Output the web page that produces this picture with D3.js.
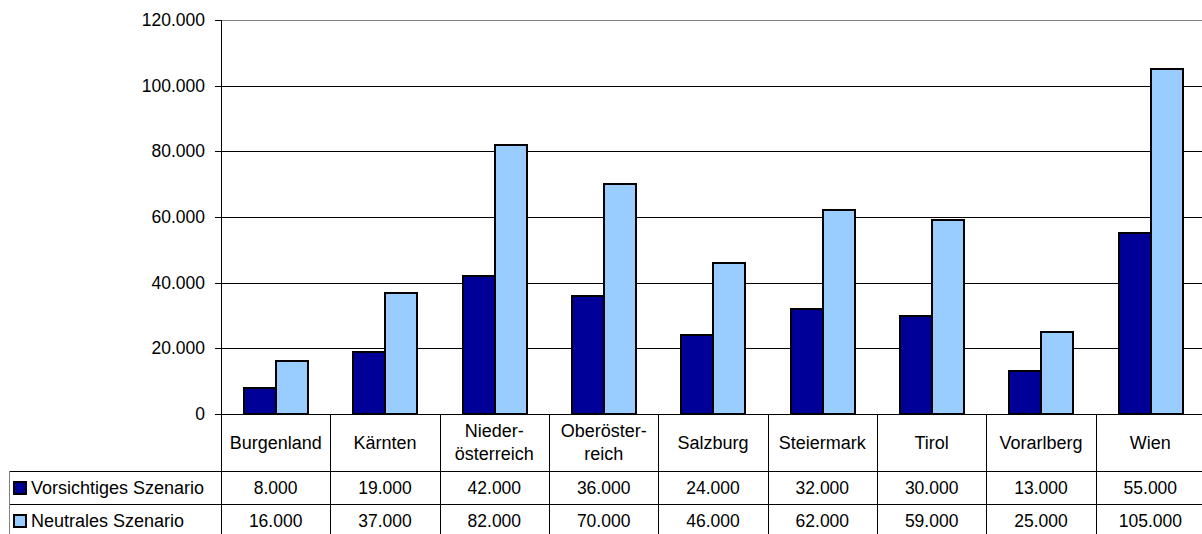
<!DOCTYPE html>
<html>
<head>
<meta charset="utf-8">
<script src="https://cdn.jsdelivr.net/npm/d3@7"></script>
<style>
  body { margin: 0; background: #fff; }
  svg { display: block; font-family: "Liberation Sans", Arial, sans-serif; }
</style>
</head>
<body>
<svg id="chart" width="1202" height="534"></svg>
<script>
const regions = ["Burgenland", "Kärnten", "Nieder-\nösterreich", "Oberöster-\nreich", "Salzburg", "Steiermark", "Tirol", "Vorarlberg", "Wien"];
const seriesNames = ["Vorsichtiges Szenario", "Neutrales Szenario"];
const vorsichtig = [8000, 19000, 42000, 36000, 24000, 32000, 30000, 13000, 55000];
const neutral = [16000, 37000, 82000, 70000, 46000, 62000, 59000, 25000, 105000];
const yTicks = [0, 20000, 40000, 60000, 80000, 100000, 120000];

const colors = {"Vorsichtiges Szenario": "#000099", "Neutrales Szenario": "#99ccff"};
const series = [
  {name: seriesNames[0], values: vorsichtig},
  {name: seriesNames[1], values: neutral}
];

const de = d3.formatLocale({decimal: ",", thousands: ".", grouping: [3], currency: ["", "€"]});
const fmt = de.format(",.0f");

const svg = d3.select("#chart");
const labelSize = 18, numSize = 17.5;

const plotLeft = 221, plotRight = 1205, plotTop = 20, plotBottom = 414;
const tableLeft = 9.5;
const rowCat = 471, row1 = 504, row2 = 537;
const crisp = v => Math.round(v) + 0.5;

const x0 = d3.scaleBand().domain(regions).range([plotLeft, plotRight]).padding(0);
const x1 = d3.scaleBand().domain(seriesNames).range([0, x0.bandwidth()]).paddingInner(0).paddingOuter(0.72);
const y = d3.scaleLinear().domain([0, 120000]).rangeRound([plotBottom, plotTop]);

// gridlines
svg.append("g")
  .attr("transform", `translate(${plotLeft},0)`)
  .call(d3.axisLeft(y).tickValues(yTicks.slice(1)).tickSize(-(plotRight - plotLeft)).tickFormat(""))
  .call(g => g.select(".domain").remove())
  .call(g => g.selectAll("line").attr("stroke", (d) => d === 120000 ? "#808080" : "#000"));

// y axis with labels
svg.append("g")
  .attr("transform", `translate(${plotLeft},0)`)
  .call(d3.axisLeft(y).tickValues(yTicks).tickSize(6).tickPadding(10).tickFormat(fmt))
  .call(g => g.select(".domain").remove())
  .call(g => g.selectAll("line").attr("stroke", "#000"))
  .call(g => g.selectAll("text").attr("font-size", numSize).attr("font-family", "Liberation Sans, Arial, sans-serif").attr("fill", "#000"));

// bars
const groups = svg.append("g").selectAll("g")
  .data(regions)
  .join("g")
  .attr("transform", d => `translate(${Math.round(x0(d))},0)`);

groups.selectAll("rect")
  .data((d, i) => series.map(s => ({name: s.name, value: s.values[i]})))
  .join("rect")
  .attr("x", d => Math.round(x1(d.name)))
  .attr("y", d => y(d.value))
  .attr("width", Math.round(x1.bandwidth()))
  .attr("height", d => y(0) - y(d.value))
  .attr("fill", d => colors[d.name])
  .attr("stroke", "#000")
  .attr("stroke-width", 2);

// axis line and baseline
svg.append("line").attr("x1", plotLeft + 0.5).attr("x2", plotLeft + 0.5).attr("y1", plotTop).attr("y2", 534).attr("stroke", "#000");
svg.append("line").attr("x1", plotLeft).attr("x2", plotRight).attr("y1", plotBottom + 0.5).attr("y2", plotBottom + 0.5).attr("stroke", "#000");

// data table
const table = svg.append("g");
x0.domain().forEach(r => {
  const xx = crisp(x0(r) + x0.bandwidth());
  table.append("line")
    .attr("x1", xx).attr("x2", xx)
    .attr("y1", plotBottom).attr("y2", 534)
    .attr("stroke", "#000");
});
[rowCat, row1].forEach(yy => {
  table.append("line")
    .attr("x1", tableLeft).attr("x2", plotRight)
    .attr("y1", yy + 0.5).attr("y2", yy + 0.5)
    .attr("stroke", "#000");
});
table.append("line")
  .attr("x1", tableLeft).attr("x2", tableLeft)
  .attr("y1", rowCat).attr("y2", 534)
  .attr("stroke", "#808080");

// category labels
regions.forEach(r => {
  const lines = r.split("\n");
  const t = table.append("text")
    .attr("x", x0(r) + x0.bandwidth() / 2)
    .attr("text-anchor", "middle")
    .attr("font-size", labelSize);
  const cy = (plotBottom + rowCat) / 2;
  lines.forEach((ln, i) => {
    t.append("tspan")
      .attr("x", x0(r) + x0.bandwidth() / 2)
      .attr("y", cy + (i - (lines.length - 1) / 2) * 23)
      .attr("dy", "0.35em")
      .text(ln);
  });
});

// value rows and legend keys
series.forEach((s, si) => {
  const top0 = si === 0 ? rowCat : row1;
  const bot0 = si === 0 ? row1 : row2;
  const cy = (top0 + bot0) / 2;
  table.append("rect")
    .attr("x", 14).attr("y", Math.round(cy - 6))
    .attr("width", 12).attr("height", 12)
    .attr("fill", colors[s.name])
    .attr("stroke", "#000").attr("stroke-width", 2);
  table.append("text")
    .attr("x", 31).attr("y", cy).attr("dy", "0.35em")
    .attr("font-size", labelSize)
    .text(s.name);
  s.values.forEach((v, i) => {
    table.append("text")
      .attr("x", x0(regions[i]) + x0.bandwidth() / 2)
      .attr("y", cy).attr("dy", "0.35em")
      .attr("text-anchor", "middle")
      .attr("font-size", numSize)
      .text(fmt(v));
  });
});
</script>
</body>
</html>
